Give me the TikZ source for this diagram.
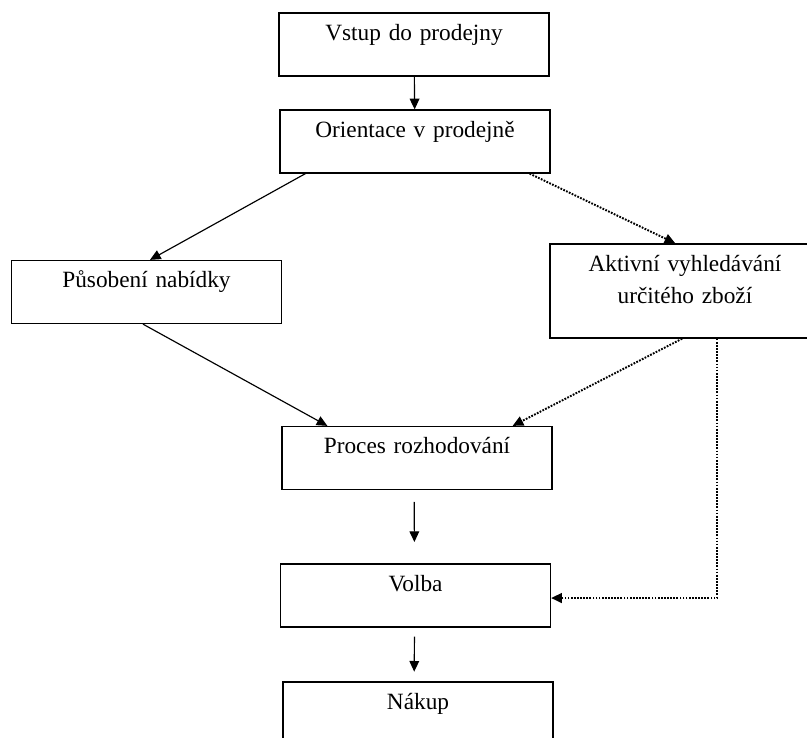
\documentclass[tikz,border=0pt]{standalone}
\usepackage{fontspec}
\setmainfont{Liberation Serif}
\usetikzlibrary{arrows.meta}

\tikzset{
  box/.style={draw, line width=0.7pt, text width=139pt, align=center,
    inner xsep=0pt, inner ysep=4pt, text height=10pt, text depth=14.4pt,
    font=\fontsize{12pt}{16.5pt}\selectfont},
  arr/.style={line width=0.6pt, -{Triangle[length=5.5pt,width=5pt]}},
  dotarr/.style={arr, line width=1pt, dash pattern=on 0.9pt off 0.7pt}
}

\begin{document}
\begin{tikzpicture}[x=0.515pt, y=-0.515pt]
\useasboundingbox (0,0) rectangle (807,737);
\clip (0,0) rectangle (807,737);
	% boxes
\node [box] (n1) at (414,44.5) {Vstup do prodejny};
\node [box] (n2) at (415,141.5) {Orientace v prodejně};
\node [box] (n3) at (146.5,292) {Působení nabídky};
\node [box, text depth=30.4pt] (n4) at (685,291) {Aktivní vyhledávání\\ určitého zboží};
\node [box] (n5) at (417,458) {Proces rozhodování};
\node [box] (n6) at (415.5,595.5) {Volba};
\node [box] (n7) at (418,713.5) {Nákup};
	% connectors
\draw [arr] (n1) -- (n2);
\draw [arr] ([xshift=13.4pt]n2.south west) -- ([xshift=1.8pt]n3.north);
\draw [dotarr] ([xshift=-10.8pt]n2.south east) -- ([xshift=-5pt]n4.north);
\draw [arr] ([xshift=-1.8pt]n3.south) -- ([xshift=23.7pt]n5.north west);
\draw [dotarr] ([xshift=-1.5pt]n4.south) -- ([xshift=-20.6pt]n5.north east);
\draw [arr, shorten <=6pt, shorten >=11pt] ([xshift=-1.5pt]n5.south) -- ([xshift=-0.5pt]n6.north);
\draw [arr, shorten <=4.6pt, shorten >=5pt] ([xshift=-0.5pt]n6.south) -- ([xshift=-2pt]n7.north);
\draw [dotarr] ([xshift=16.5pt]n4.south) |- ([yshift=-1.3pt]n6.east);
\end{tikzpicture}
\end{document}
